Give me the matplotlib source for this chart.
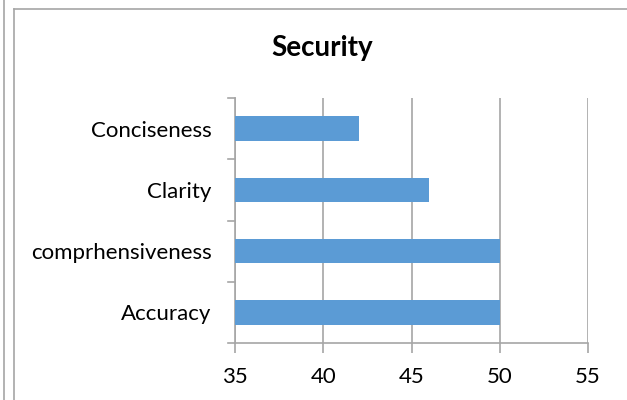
import matplotlib
matplotlib.use("Agg")
import matplotlib.pyplot as plt
from matplotlib.lines import Line2D

categories = ["Accuracy", "comprhensiveness", "Clarity", "Conciseness"]
scores = [50, 50, 46, 42]
x_ticks = [35, 40, 45, 50, 55]

plt.rcParams["font.family"] = ["Lato", "DejaVu Sans"]

W, H = 627, 400
fig = plt.figure(figsize=(W / 100, H / 100), dpi=100)

# frame lines around the chart area
frame = "#a6a6a6"
fig.add_artist(Line2D([4 / W, 4 / W], [0, 1], color=frame, lw=1.2))
fig.add_artist(Line2D([13.5 / W, 13.5 / W], [0, 1 - 9 / H], color=frame, lw=1.2))
fig.add_artist(Line2D([13.5 / W, 1], [1 - 9 / H, 1 - 9 / H], color=frame, lw=1.2))

left, right = 235 / W, 588 / W
bottom, top = 1 - 343 / H, 1 - 98 / H
ax = fig.add_axes([left, bottom, right - left, top - bottom])

ax.barh(range(len(categories)), scores, height=0.4, color="#5b9bd5", zorder=3)
ax.set_xlim(x_ticks[0], x_ticks[-1])
ax.set_ylim(-0.5, len(categories) - 0.5)

ax.set_xticks(x_ticks)
ax.set_xticklabels([str(t) for t in x_ticks], fontsize=16)
ax.set_yticks(range(len(categories)))
ax.set_yticklabels(categories, fontsize=16)
ax.tick_params(axis="y", length=0, pad=17)
ax.tick_params(axis="x", length=7, color="#a6a6a6", width=1.2, pad=10)

# category separator ticks on the value axis
for b in [-0.5, 0.5, 1.5, 2.5, 3.5]:
    ax.plot([-0.02, 0], [b, b], transform=ax.get_yaxis_transform(),
            color="#a6a6a6", lw=1.2, clip_on=False)

ax.grid(axis="x", color="#a6a6a6", lw=1.2, zorder=0)
for s in ["top", "right"]:
    ax.spines[s].set_visible(False)
for s in ["left", "bottom"]:
    ax.spines[s].set_color("#a6a6a6")
    ax.spines[s].set_linewidth(1.2)

fig.text(322 / W, 1 - 48 / H, "Security", ha="center", va="center",
         fontsize=20, fontweight="bold")

fig.savefig("out.png", dpi=100)
